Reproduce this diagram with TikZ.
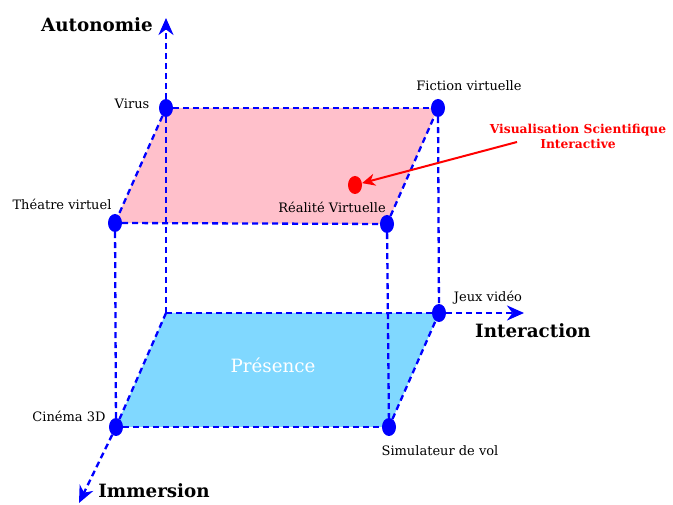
\documentclass[tikz,border=0pt]{standalone}
\usepackage{fontspec}
\setmainfont{DejaVu Serif}
\usetikzlibrary{arrows.meta, shapes.geometric}
\definecolor{rose}{RGB}{255,192,203}
\definecolor{ciel}{RGB}{128,216,255}

\begin{document}
\begin{tikzpicture}[
  x=1pt, y=1pt,
  coin/.style={ellipse, fill=blue, minimum width=14pt, minimum height=18pt, inner sep=0pt},
  arete/.style={draw=blue, line width=2.3pt, dash pattern=on 6pt off 4pt},
  axe/.style={arete, -{Stealth[length=17pt,width=15pt]}},
  etiq/.style={font=\fontsize{13}{15}\selectfont},
  titre/.style={font=\fontsize{18.3}{20}\selectfont\bfseries}
]
  \useasboundingbox (0,0) rectangle (673,505);

  % Faces of the cube.
  \fill[rose] (166,397) -- (438,397) -- (387,281) -- (115,282) -- cycle;
  \fill[ciel] (166,192) -- (439,192) -- (389,78) -- (116,78) -- cycle;

  \coordinate (arr) at (166,192);
  \coordinate (hautA) at (166,487);
  \coordinate (droitI) at (524,192);
  \coordinate (basI) at (79,2);

  \node[coin] (virus) at (166,397) {};
  \node[coin] (fiction) at (438,397) {};
  \node[coin] (theatre) at (115,282) {};
  \node[coin] (realite) at (387,281) {};
  \node[coin] (jeux) at (439,192) {};
  \node[coin] (cinema) at (116,78) {};
  \node[coin] (simul) at (389,78) {};
  \node[coin, fill=red] (visu) at (355,320) {};

  % Top face.
  \draw[arete] (virus) -- (fiction);
  \draw[arete] (virus) -- (theatre);
  \draw[arete] (theatre) -- (realite);
  \draw[arete] (realite) -- (fiction);

  % Bottom face.
  \draw[arete] (arr) -- (jeux);
  \draw[arete] (arr) -- (cinema);
  \draw[arete] (cinema) -- (simul);
  \draw[arete] (simul) -- (jeux);

  % Verticals.
  \draw[arete] (virus) -- (arr);
  \draw[arete] (fiction) -- (jeux);
  \draw[arete] (theatre) -- (cinema);
  \draw[arete] (realite) -- (simul);

  % Axes.
  \draw[axe] (virus) -- (hautA);
  \draw[axe] (jeux) -- (droitI);
  \draw[axe] (cinema) -- (basI);

  \node[titre] (autonomie) at (97,480) {Autonomie};
  \node[titre] (interaction) at (533,174) {Interaction};
  \node[titre] (immersion) at (154,14) {Immersion};

  \node[etiq] (lvirus) at (132,401) {Virus};
  \node[etiq] (lfiction) at (469,419) {Fiction virtuelle};
  \node[etiq] (ltheatre) at (62,301) {Théatre virtuel};
  \node[etiq] (lrealite) at (332,298) {Réalité Virtuelle};
  \node[etiq] (ljeux) at (488,207) {Jeux vidéo};
  \node[etiq] (lcinema) at (69,89) {Cinéma 3D};
  \node[etiq] (lsimul) at (440,54) {Simulateur de vol};
  \node[font=\fontsize{18.3}{20}\selectfont, text=white] (presence) at (273,140) {Présence};

  \node[text=red, font=\fontsize{12.3}{15}\selectfont\bfseries, align=center] (lvisu) at (578,369)
    {Visualisation Scientifique\\Interactive};
  \draw[red, line width=2pt, -{Stealth[length=13pt,width=12pt,inset=4pt]}] (517,363) -- (visu);
\end{tikzpicture}
\end{document}
